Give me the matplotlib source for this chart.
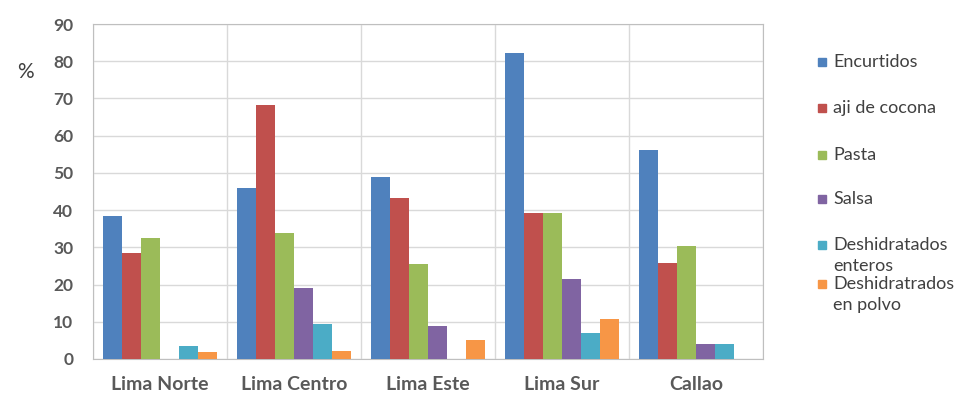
import numpy as np
import matplotlib.pyplot as plt
from matplotlib.patches import Rectangle

# datos (%)
regiones = ['Lima Norte', 'Lima Centro', 'Lima Este', 'Lima Sur', 'Callao']
series = ['Encurtidos', 'aji de cocona', 'Pasta', 'Salsa',
          'Deshidratados\nenteros', 'Deshidratrados\nen polvo']
encurtidos = [38.5, 46.0, 49.0, 82.2, 56.2]
aji_cocona = [28.5, 68.3, 43.2, 39.2, 25.8]
pasta = [32.5, 33.8, 25.4, 39.2, 30.3]
salsa = [0.0, 19.0, 8.9, 21.4, 3.9]
desh_enteros = [3.5, 9.4, 0.0, 7.0, 3.9]
desh_polvo = [1.9, 2.2, 5.2, 10.6, 0.0]

valores = [encurtidos, aji_cocona, pasta, salsa, desh_enteros, desh_polvo]
colores = ['#4F81BD', '#C0504D', '#9BBB59', '#8064A2', '#4BACC6', '#F79646']

plt.rcParams['font.family'] = ['Lato', 'DejaVu Sans']

W, H = 978, 394
fig = plt.figure(figsize=(W / 100, H / 100), dpi=100)
ax = fig.add_axes([0.095, 0.089, 0.685, 0.850])

x = np.arange(len(regiones))
ancho = 0.1418
for i, (vals, c, lab) in enumerate(zip(valores, colores, series)):
    ax.bar(x + (i - 2.5) * ancho, vals, ancho, color=c, label=lab, zorder=3)

ax.set_xlim(-0.5, len(regiones) - 0.5)
ax.set_ylim(0, 90)
ax.set_yticks(np.arange(0, 91, 10))
ax.set_xticks(x)
ax.set_xticklabels(regiones, fontsize=14, fontweight='bold', color='#595959')

# separadores verticales entre categorias
ax.set_xticks(np.arange(-0.5, len(regiones), 1), minor=True)
ax.grid(axis='y', color='#D9D9D9', linewidth=1, zorder=0)
ax.grid(axis='x', which='minor', color='#D9D9D9', linewidth=1, zorder=0)
ax.tick_params(axis='both', which='both', length=0)
ax.tick_params(axis='y', labelsize=12.5, labelcolor='#595959', pad=14)
ax.tick_params(axis='x', pad=12)
for lbl in ax.get_yticklabels():
    lbl.set_fontweight('bold')
for s in ax.spines.values():
    s.set_color('#BFBFBF')

fig.text(25 / W, 1 - 72 / H, '%', fontsize=15, color='#404040', ha='center', va='center')

# leyenda dibujada a mano (cuadro alineado con la primera linea)
filas_y = [62, 108, 155, 199, 245, 284]
for lab, c, yy in zip(series, colores, filas_y):
    fig.patches.append(Rectangle((818 / W, 1 - (yy + 4) / H), 8 / W, 8 / H,
                                 transform=fig.transFigure, color=c))
    for k, linea in enumerate(lab.split('\n')):
        fig.text(833 / W, 1 - (yy + 21 * k) / H, linea, fontsize=13,
                 color='#404040', ha='left', va='center')

fig.savefig('out.png', dpi=100)
